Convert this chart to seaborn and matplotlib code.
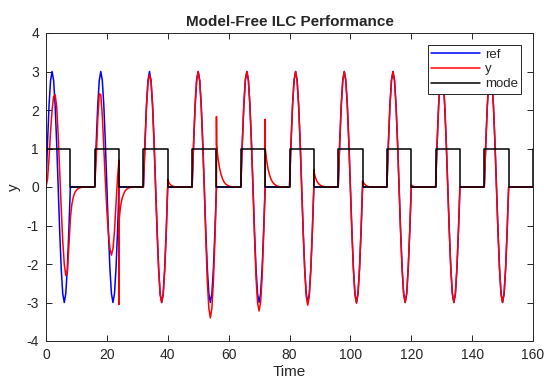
import numpy as np
import pandas as pd
import matplotlib
matplotlib.use('Agg')
import matplotlib.pyplot as plt
import seaborn as sns

# ---------------- data ----------------
period_starts = [0, 16, 32, 48, 64, 80, 96, 112, 128, 144]
on_offsets = [0.0, 0.5, 1.0, 1.5, 2.0, 2.5, 3.0, 3.5, 4.0, 4.5, 5.0, 5.5, 6.0, 6.5, 7.0, 7.5, 8.0]
spike_offset = 8.0
off_offsets = [8.04, 8.5, 9.0, 9.5, 10.0, 10.5, 11.0, 11.5, 12.0, 12.5, 13.0, 13.5, 14.0, 14.5, 15.0, 15.5]
end_time = 160

# reference: sine burst in the active half, zero in the idle half
ref_on = [0, 1.15, 2.12, 2.77, 3.0, 2.77, 2.12, 1.15, 0, -1.15, -2.12, -2.77, -3.0, -2.77, -2.12, -1.15, 0]
ref_off = [0] * 16

# measured output y, one list per iteration
y_on = [
    [0, 0.2, 0.75, 1.45, 2.0, 2.35, 2.4, 2.1, 1.35, 0.4, -0.55, -1.4, -2.0, -2.3, -2.25, -1.55, -0.8],
    [0, 0.75, 1.75, 2.42, 2.4, 1.85, 1.0, 0.15, -0.6, -1.2, -1.6, -1.77, -1.6, -1.15, -0.45, 0.25, 0.7],
    [0, 1.05, 2.05, 2.7, 2.92, 2.75, 2.15, 1.2, 0.05, -1.1, -2.1, -2.8, -3.0, -2.8, -2.15, -1.2, 0.1],
    [0, 1.15, 2.15, 2.8, 3.0, 2.75, 2.1, 1.1, 0.0, -1.3, -2.45, -3.15, -3.4, -3.15, -2.45, -1.35, 0.0],
    [0, 1.15, 2.15, 2.8, 3.0, 2.77, 2.12, 1.12, 0.0, -1.25, -2.35, -3.0, -3.22, -3.0, -2.35, -1.25, 0.0],
    [0, 1.15, 2.12, 2.77, 3.0, 2.77, 2.12, 1.15, 0.0, -1.18, -2.17, -2.84, -3.07, -2.84, -2.17, -1.18, 0.0],
    [0, 1.15, 2.12, 2.77, 3.0, 2.77, 2.12, 1.15, 0.0, -1.16, -2.14, -2.79, -3.02, -2.79, -2.14, -1.16, 0.0],
    [0, 1.15, 2.12, 2.77, 3.0, 2.77, 2.12, 1.15, 0, -1.15, -2.12, -2.77, -3.0, -2.77, -2.12, -1.15, 0],
    [0, 1.15, 2.12, 2.77, 3.0, 2.77, 2.12, 1.15, 0, -1.15, -2.12, -2.77, -3.0, -2.77, -2.12, -1.15, 0],
    [0, 1.15, 2.12, 2.77, 3.0, 2.77, 2.12, 1.15, 0, -1.15, -2.12, -2.77, -3.0, -2.77, -2.12, -1.15, 0],
]
y_spike = [-0.8, -3.05, 0.2, 1.83, 1.76, 0.45, 0.16, 0.05, 0.0, 0.0]
y_off = [
    [-0.78, -0.45, -0.25, -0.14, -0.08, -0.045, -0.025, -0.012, -0.005, 0, 0, 0, 0, 0, 0, 0],
    [-0.85, -0.5, -0.3, -0.18, -0.1, -0.06, -0.03, -0.015, -0.007, 0, 0, 0, 0, 0, 0, 0],
    [0.18, 0.1, 0.05, 0.025, 0.012, 0.006, 0, 0, 0, 0, 0, 0, 0, 0, 0, 0],
    [1.1, 0.75, 0.5, 0.33, 0.21, 0.13, 0.08, 0.05, 0.03, 0.015, 0.008, 0.004, 0, 0, 0, 0],
    [1.0, 0.68, 0.45, 0.3, 0.19, 0.12, 0.075, 0.045, 0.025, 0.012, 0.006, 0, 0, 0, 0, 0],
    [0.4, 0.25, 0.15, 0.09, 0.055, 0.03, 0.015, 0.008, 0, 0, 0, 0, 0, 0, 0, 0],
    [0.15, 0.09, 0.05, 0.025, 0.01, 0, 0, 0, 0, 0, 0, 0, 0, 0, 0, 0],
    [0.05, 0.02, 0.01, 0, 0, 0, 0, 0, 0, 0, 0, 0, 0, 0, 0, 0],
    [0] * 16,
    [0] * 16,
]

# operating mode (switch times and levels)
mode_times = [0, 8, 16, 24, 32, 40, 48, 56, 64, 72, 80, 88, 96, 104, 112, 120, 128, 136, 144, 152, 160]
mode_vals = [1, 0, 1, 0, 1, 0, 1, 0, 1, 0, 1, 0, 1, 0, 1, 0, 1, 0, 1, 0, 1]

# ---------------- assemble series ----------------
t_ref, v_ref, t_y, v_y = [], [], [], []
for k, t0 in enumerate(period_starts):
    t_ref += [t0 + o for o in on_offsets] + [t0 + o for o in off_offsets]
    v_ref += ref_on + ref_off
    t_y += [t0 + o for o in on_offsets] + [t0 + spike_offset] + [t0 + o for o in off_offsets]
    v_y += y_on[k] + [y_spike[k]] + y_off[k]
t_ref.append(end_time); v_ref.append(0)
t_y.append(end_time); v_y.append(0)

df_ref = pd.DataFrame({'Time': t_ref, 'value': v_ref})
df_y = pd.DataFrame({'Time': t_y, 'value': v_y})
df_mode = pd.DataFrame({'Time': mode_times, 'value': mode_vals})

# ---------------- plot ----------------
sns.set_theme(style='ticks')
plt.rcParams['font.family'] = ['Liberation Sans', 'DejaVu Sans']
plt.rcParams['axes.unicode_minus'] = False
dark = '#262626'

fig = plt.figure(figsize=(5.44, 3.82), dpi=100)
ax = fig.add_axes([46 / 544, 1 - 341 / 382, 487 / 544, 308 / 382])

sns.lineplot(data=df_ref, x='Time', y='value', color='#0000ff', lw=1.1, label='ref',
             sort=False, estimator=None, ax=ax)
sns.lineplot(data=df_y, x='Time', y='value', color='#ff0000', lw=1.1, label='y',
             sort=False, estimator=None, ax=ax)
sns.lineplot(data=df_mode, x='Time', y='value', color='black', lw=1.1, label='mode',
             sort=False, estimator=None, drawstyle='steps-post', ax=ax)

ax.set_xlim(0, 160)
ax.set_ylim(-4, 4)
ax.set_xticks(range(0, 161, 20))
ax.set_yticks(range(-4, 5))

for s in ax.spines.values():
    s.set_visible(True)
    s.set_color(dark)
    s.set_linewidth(0.7)
ax.tick_params(direction='in', top=True, right=True, length=4, width=0.7,
               colors=dark, labelsize=10, labelcolor=dark)
ax.tick_params(axis='x', pad=5)
ax.tick_params(axis='y', pad=5)

ax.set_title('Model-Free ILC Performance', fontsize=11, fontweight='bold', color=dark, pad=5)
ax.set_xlabel('Time', fontsize=11, color=dark, labelpad=2)
ax.set_ylabel('y', fontsize=11, color=dark, labelpad=4)

leg = ax.legend(loc='upper right', bbox_to_anchor=((521 - 46) / 487, 1 - (45 - 33) / 308),
                borderaxespad=0, fancybox=False, framealpha=1, edgecolor=dark,
                fontsize=9.5, handlelength=3.7, handletextpad=0.35, labelspacing=0.2,
                borderpad=0.25)
leg.get_frame().set_linewidth(0.7)
for txt in leg.get_texts():
    txt.set_color(dark)

fig.savefig('out.png', dpi=100)
